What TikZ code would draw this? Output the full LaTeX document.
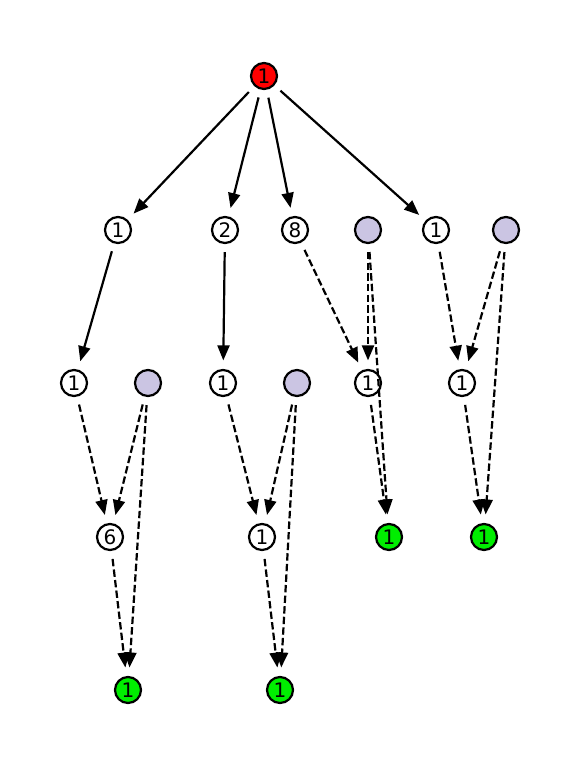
\documentclass[tikz,border=0pt]{standalone}
\usepackage{fontspec}
\setmainfont{DejaVu Sans}
\usepackage{xcolor}
\usepackage{tikz}
\usetikzlibrary{arrows.meta}

\definecolor{rootred}{HTML}{FF0000}
\definecolor{leafgreen}{HTML}{00EE00}
\definecolor{hidlila}{HTML}{CBC5E3}

\begin{document}
\begin{tikzpicture}[x=1pt,y=-1pt,
    vtx/.style={circle,draw,line width=2.2pt,minimum size=26pt,inner sep=0pt,
      font=\fontsize{20}{20}\selectfont},
    num/.style={vtx,fill=white},
    top/.style={vtx,fill=rootred},
    leaf/.style={vtx,fill=leafgreen},
    hid/.style={vtx,fill=hidlila},
    link/.style={line width=2.2pt,-{Triangle[length=15pt,width=12pt]},
      shorten >=8.5pt,shorten <=8pt},
    dlink/.style={link,dash pattern=on 7.4pt off 3.2pt}]
  \useasboundingbox (0,0) rectangle (581,775);
  % root
  \node[top] (r) at (264,76) {1};
  % counted vertices
  \foreach \n/\x/\y/\t in {a1/118/230/1, a2/225/230/2, a3/295/230/8, a5/436/230/1,
      b1/74/383/1, b3/223/383/1, b5/368/383/1, b6/462/383/1,
      c1/110/537/6, c2/262/537/1}
    \node[num] (\n) at (\x,\y) {\t};
  % blank vertices
  \foreach \n/\x/\y in {a4/368/230, a6/506/230, b2/148/383, b4/297/383}
    \node[hid] (\n) at (\x,\y) {};
  % leaves
  \foreach \n/\x/\y in {c3/389/537, c4/484/537, d1/128/690, d2/280/690}
    \node[leaf] (\n) at (\x,\y) {1};
  % solid edges
  \foreach \s/\t in {r/a1, r/a2, r/a3, r/a5, a1/b1, a2/b3}
    \draw[link] (\s) -- (\t);
  % dashed edges
  \foreach \s/\t in {a3/b5, a4/b5, a4/c3, b5/c3, a5/b6, a6/b6, a6/c4, b6/c4,
      b1/c1, b2/c1, b2/d1, c1/d1, b3/c2, b4/c2, b4/d2, c2/d2}
    \draw[dlink] (\s) -- (\t);
\end{tikzpicture}
\end{document}
